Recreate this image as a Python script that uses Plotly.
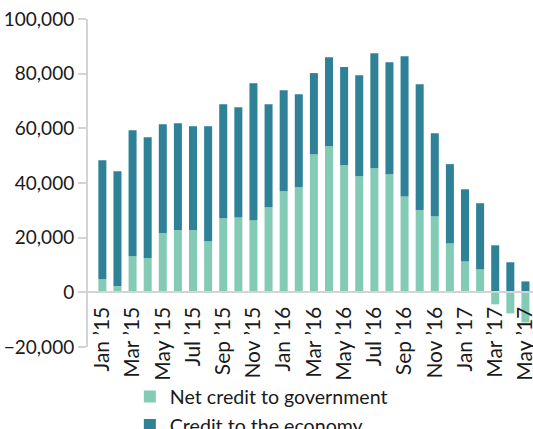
import plotly.graph_objects as go

months = ["Jan ’15", "Feb ’15", "Mar ’15", "Apr ’15", "May ’15", "Jun ’15", "Jul ’15", "Aug ’15",
          "Sep ’15", "Oct ’15", "Nov ’15", "Dec ’15", "Jan ’16", "Feb ’16", "Mar ’16", "Apr ’16",
          "May ’16", "Jun ’16", "Jul ’16", "Aug ’16", "Sep ’16", "Oct ’16", "Nov ’16", "Dec ’16",
          "Jan ’17", "Feb ’17", "Mar ’17", "Apr ’17", "May ’17"]

# Net credit to government
net_gov = [4900, 2300, 13200, 12600, 21600, 22800, 22800, 18700,
           27100, 27400, 26400, 31100, 37000, 38400, 50500, 53400,
           46500, 42500, 45400, 43200, 35100, 30000, 27800, 17900,
           11300, 8400, -4400, -7700, -11000]

# Total (top of stacked bar) where positive
totals = [48300, 44300, 59300, 56700, 61500, 61900, 60800, 60800,
          68800, 67700, 76500, 68800, 73900, 72500, 80200, 86000,
          82400, 79400, 87500, 84200, 86400, 76100, 58200, 46900,
          37700, 32600, 17200, 11000, 4000]

credit_econ = [t - g if g > 0 else t for t, g in zip(totals, net_gov)]

tick_vals = months[::2]
y_ticks = [-20000, 0, 20000, 40000, 60000, 80000, 100000]

GREEN = "#84cbb6"
TEAL = "#2f8197"
FONT = "Lato"

fig = go.Figure()
fig.add_trace(go.Bar(x=months, y=net_gov, name="Net credit to government",
                     marker=dict(color=GREEN, line=dict(width=0))))
fig.add_trace(go.Bar(x=months, y=credit_econ, name="Credit to the economy",
                     marker=dict(color=TEAL, line=dict(width=0))))

fig.update_layout(
    barmode="relative",
    bargap=0.47,
    width=533, height=429,
    margin=dict(l=88, r=0, t=19, b=82, autoexpand=False),
    plot_bgcolor="white", paper_bgcolor="white",
    font=dict(family=FONT, size=18, color="#1a1a1a"),
    showlegend=True,
    legend=dict(orientation="v", x=0.094, xanchor="left", y=-0.092, yanchor="top",
                font=dict(size=19.6), traceorder="normal", tracegroupgap=0,
                bgcolor="rgba(0,0,0,0)"),
    xaxis=dict(type="category", categoryorder="array", categoryarray=months,
               range=[-0.95, 28.5], tickvals=tick_vals, ticktext=tick_vals,
               tickangle=-90, showgrid=False, showline=True, linecolor="#d4d4d4",
               linewidth=2, anchor="free", position=1/6, ticks="",
               ticklabelstandoff=5,
               tickfont=dict(size=21), zeroline=False, automargin=False),
    yaxis=dict(range=[-20000, 100000], tickvals=y_ticks, tickformat=",",
               showgrid=False, zeroline=False, showline=True, linecolor="#d4d4d4",
               linewidth=2, ticks="outside", ticklen=8, tickwidth=2, tickcolor="#d4d4d4",
               ticklabeloverflow="allow",
               tickfont=dict(size=19), automargin=False),
)

fig.write_html("out.html", config={"displayModeBar": False},
               post_script="document.body.style.margin='0px';")
